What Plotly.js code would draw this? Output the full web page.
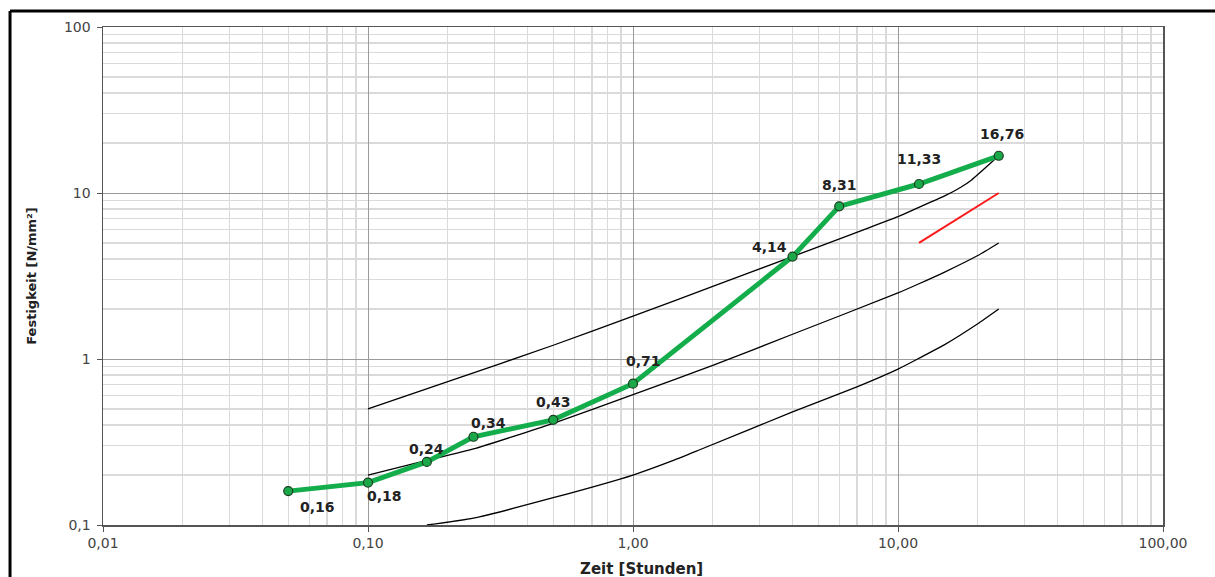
<!DOCTYPE html>
<html>
<head>
<meta charset="utf-8">
<script src="https://cdn.plot.ly/plotly-3.0.1.min.js"></script>
<style>html,body{margin:0;padding:0;background:#fff;}#chart{width:1215px;height:577px;}</style>
</head>
<body>
<div id="chart"></div>
<script>
// Measured series (green)
var zeit = [0.05, 0.1, 0.1667, 0.25, 0.5, 1, 4, 6, 12, 24];
var festigkeit = [0.16, 0.18, 0.24, 0.34, 0.43, 0.71, 4.14, 8.31, 11.33, 16.76];

// Reference curves (black)
var upperX = [0.1, 0.2, 0.5, 1, 2, 4, 10, 12, 15, 17.2, 18.9, 24];
var upperY = [0.5, 0.73, 1.21, 1.81, 2.74, 4.14, 7.2, 8.2, 9.6, 10.8, 11.95, 16.76];
var middleX = [0.1, 0.1667, 0.25, 0.5, 1, 2, 4, 10, 12, 15, 20, 24];
var middleY = [0.2, 0.245, 0.287, 0.41, 0.61, 0.914, 1.41, 2.5, 2.84, 3.34, 4.2, 5.0];
var lowerX = [0.1667, 0.25, 0.5, 1, 1.42, 1.786, 4, 7, 10, 12, 15, 20, 24];
var lowerY = [0.1, 0.11, 0.146, 0.2, 0.245, 0.284, 0.48, 0.68, 0.87, 1.01, 1.22, 1.63, 2.0];
// Red line
var redX = [12, 24];
var redY = [5, 10];

// Tick labels
var xTickVals = [0.01, 0.1, 1, 10, 100];
var xTickText = ["0,01", "0,10", "1,00", "10,00", "100,00"];
var yTickVals = [0.1, 1, 10, 100];
var yTickText = ["0,1", "1", "10", "100"];

// Label placement (style only): pixel offsets of each value label from its point
var labelStyle = {
  dx: [29, 16, 0, 15, 0, 10, -23, 0, 0, 3],
  dy: [-16, -13, 13, 14, 18, 23, 10, 21, 25, 22]
};

var FONT = 'DejaVu Sans, Verdana, sans-serif';

var labels = festigkeit.map(function(v){ return v.toFixed(2).replace('.', ','); });

// minor grid positions 2..9 per decade
function minorVals(lo, hi){
  var out = [];
  for (var e = lo; e < hi; e++) for (var k = 2; k <= 9; k++) out.push(k * Math.pow(10, e));
  return out;
}

function blackLine(x, y){
  return {x: x, y: y, type: 'scatter', mode: 'lines', line: {color: '#000', width: 1.3, shape: 'spline', smoothing: 0.5}, hoverinfo: 'skip', showlegend: false};
}

var traces = [
  blackLine(upperX, upperY),
  blackLine(middleX, middleY),
  blackLine(lowerX, lowerY),
  {x: redX, y: redY, type: 'scatter', mode: 'lines', line: {color: '#ff1a1a', width: 2}, showlegend: false},
  {x: zeit, y: festigkeit, type: 'scatter', mode: 'lines+markers',
   line: {color: '#13ad4b', width: 5},
   marker: {size: 9, color: '#1aa848', line: {color: '#1c3d22', width: 1.2}},
   cliponaxis: false, showlegend: false}
];

var annotations = zeit.map(function(x, i){
  return {x: Math.log10(x), y: Math.log10(festigkeit[i]), xref: 'x', yref: 'y',
    text: '<b>' + labels[i] + '</b>', showarrow: false,
    xshift: labelStyle.dx[i], yshift: labelStyle.dy[i],
    font: {family: FONT, size: 14, color: '#222'}};
});
annotations.push({xref: 'paper', yref: 'paper', x: 0.5, y: 0, xanchor: 'center', yanchor: 'middle',
  xshift: 8, yshift: -44,
  text: '<b>Zeit [Stunden]</b>', showarrow: false, font: {family: FONT, size: 15, color: '#222'}});

var axisCommon = {
  type: 'log',
  showline: true, mirror: true, linecolor: '#555', linewidth: 1.5,
  ticks: 'outside', ticklen: 5, tickcolor: '#555', tickwidth: 1,
  showgrid: true, gridcolor: '#9a9a9a', gridwidth: 1,
  zeroline: false,
  tickfont: {family: FONT, size: 14, color: '#444'}
};

var layout = {
  width: 1215, height: 577,
  margin: {l: 103, r: 52, t: 27, b: 52},
  paper_bgcolor: '#fff', plot_bgcolor: '#fff',
  showlegend: false,
  xaxis: Object.assign({}, axisCommon, {
    range: [-2, 2], tickmode: 'array', tickvals: xTickVals, ticktext: xTickText,
    minor: {tickmode: 'array', tickvals: minorVals(-2, 2), showgrid: true, gridcolor: '#dadada', gridwidth: 1.3, ticks: ''}
  }),
  yaxis: Object.assign({}, axisCommon, {
    range: [-1, 2], tickmode: 'array', tickvals: yTickVals, ticktext: yTickText,
    ticklabelstandoff: 3,
    minor: {tickmode: 'array', tickvals: minorVals(-1, 2), showgrid: true, gridcolor: '#dadada', gridwidth: 1.3, ticks: ''},
    title: {text: '<b>Festigkeit [N/mm²]</b>', standoff: 24, font: {family: FONT, size: 13, color: '#222'}}
  }),
  annotations: annotations,
  shapes: [
    {type: 'line', xref: 'paper', yref: 'paper', x0: -0.0877, x1: 1.2, y0: 1.0321, y1: 1.0321, line: {color: '#000', width: 3}},
    {type: 'line', xref: 'paper', yref: 'paper', x0: -0.0877, x1: -0.0877, y0: 1.0321, y1: -0.2, line: {color: '#000', width: 3}}
  ]
};

Plotly.newPlot('chart', traces, layout, {displayModeBar: false, staticPlot: true});
</script>
</body>
</html>
